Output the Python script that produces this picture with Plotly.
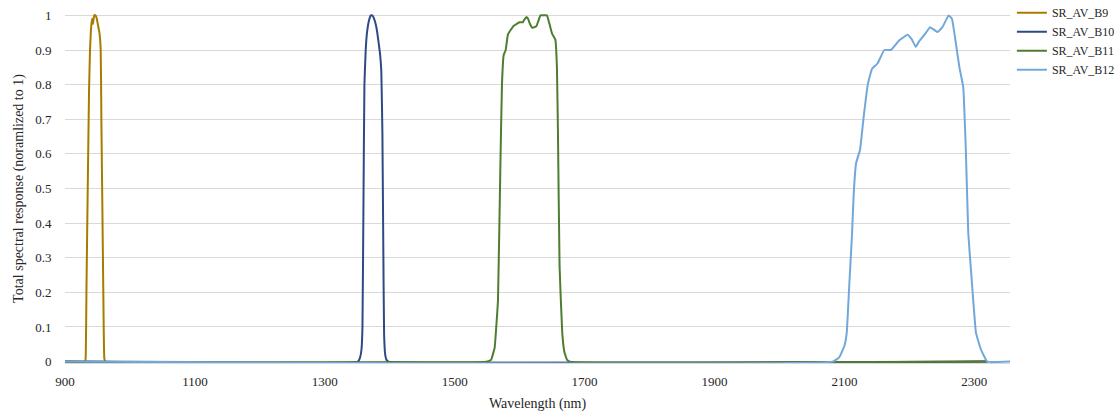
import plotly.graph_objects as go

# ---- data (wavelength in nm, normalized response) ----
b9_wl = [900, 931, 932, 933, 935, 937, 938.5, 940, 941, 942, 943, 944, 945, 947, 949, 951, 953, 955, 956, 957.5, 959, 960.5, 962, 2320]
b9_val = [0, 0, 0.02, 0.2, 0.5, 0.78, 0.9, 0.96, 0.98, 0.99, 0.975, 0.99, 1.0, 1.0, 0.99, 0.97, 0.95, 0.9, 0.7, 0.45, 0.2, 0.01, 0, 0]

b10_wl = [900, 1351, 1354, 1356.5, 1358, 1359.5, 1361, 1363, 1365, 1368, 1371, 1373, 1376, 1379.5, 1383, 1385, 1387, 1388.7, 1390, 1391.3, 1393, 1395, 1398, 2320]
b10_val = [0, 0, 0.01, 0.035, 0.1, 0.45, 0.8, 0.9, 0.95, 0.985, 1.0, 1.0, 0.99, 0.965, 0.92, 0.89, 0.84, 0.66, 0.35, 0.08, 0.02, 0.005, 0, 0]

b11_wl = [900, 1549, 1556, 1561.5, 1564, 1566.7, 1570.3, 1572.8, 1575.4, 1578.5, 1582, 1587, 1591, 1595, 1600, 1605, 1608, 1611, 1613, 1616, 1619, 1623, 1626, 1629, 1632, 1637, 1642, 1646, 1650, 1655, 1657.4, 1659, 1661.5, 1665.6, 1669, 1673, 1677, 2320]
b11_val = [0, 0, 0.005, 0.04, 0.1, 0.18, 0.56, 0.8, 0.885, 0.9, 0.945, 0.96, 0.97, 0.975, 0.98, 0.98, 0.99, 0.995, 0.99, 0.975, 0.965, 0.966, 0.97, 0.985, 1.0, 1.0, 1.0, 0.975, 0.947, 0.93, 0.85, 0.66, 0.275, 0.083, 0.027, 0.005, 0, 0]

b12_wl = [900, 2082, 2092, 2100, 2103.6, 2107.7, 2111.8, 2114.4, 2118, 2124, 2129.7, 2136, 2142.6, 2151, 2161.5, 2171.8, 2184.6, 2197.4, 2204, 2210, 2215, 2225.7, 2232, 2243.6, 2251, 2260.5, 2265.6, 2271.8, 2277, 2283, 2287, 2290.8, 2296.4, 2302.6, 2310.3, 2320, 2355]
b12_val = [0, 0, 0.012, 0.045, 0.083, 0.227, 0.37, 0.486, 0.573, 0.611, 0.707, 0.8, 0.846, 0.861, 0.9, 0.9, 0.928, 0.944, 0.93, 0.909, 0.925, 0.95, 0.966, 0.952, 0.966, 1.0, 0.99, 0.918, 0.851, 0.793, 0.611, 0.37, 0.227, 0.083, 0.035, 0, 0]

series = [
    ("SR_AV_B9", b9_wl, b9_val, "#A67C00"),
    ("SR_AV_B10", b10_wl, b10_val, "#2E4A86"),
    ("SR_AV_B11", b11_wl, b11_val, "#4E7D32"),
    ("SR_AV_B12", b12_wl, b12_val, "#72A7DC"),
]

x_ticks = [900, 1100, 1300, 1500, 1700, 1900, 2100, 2300]
y_ticks = [0, 0.1, 0.2, 0.3, 0.4, 0.5, 0.6, 0.7, 0.8, 0.9, 1]
y_labels = ["0", "0.1", "0.2", "0.3", "0.4", "0.5", "0.6", "0.7", "0.8", "0.9", "1"]

FONT = "Liberation Serif, Times New Roman, serif"

fig = go.Figure()
for name, wl, val, color in series:
    fig.add_trace(go.Scatter(
        x=wl, y=val, mode="lines", name=name,
        line=dict(color=color, width=2, shape="spline", smoothing=0.3),
    ))

fig.update_layout(
    width=1116, height=417,
    margin=dict(l=65, r=106, t=14, b=54, autoexpand=False),
    paper_bgcolor="white", plot_bgcolor="white",
    font=dict(family=FONT, size=13, color="#262626"),
    legend=dict(
        x=1.002, y=1.045, xanchor="left", yanchor="top",
        font=dict(family=FONT, size=12, color="#262626"),
        bgcolor="rgba(0,0,0,0)", itemwidth=30, tracegroupgap=0,
    ),
    showlegend=True,
)
fig.update_xaxes(
    range=[900, 2355], tickvals=x_ticks, ticktext=[str(t) for t in x_ticks],
    showgrid=False, zeroline=False, showline=True, linecolor="#D9D9D9", linewidth=1,
    ticks="outside", ticklen=6, tickcolor="rgba(0,0,0,0)",
    title=dict(text="Wavelength (nm)", font=dict(family=FONT, size=14), standoff=10),
    tickfont=dict(family=FONT, size=13, color="#262626"),
)
fig.update_yaxes(
    range=[-0.004, 1.004], tickvals=y_ticks, ticktext=y_labels,
    showgrid=True, gridcolor="#D9D9D9", gridwidth=1, zeroline=False, showline=False,
    ticks="outside", ticklen=10, tickcolor="rgba(0,0,0,0)",
    title=dict(text="Total spectral response (noramlized to 1)", font=dict(family=FONT, size=14), standoff=8),
    tickfont=dict(family=FONT, size=13, color="#262626"),
)

fig.write_html("out.html")
